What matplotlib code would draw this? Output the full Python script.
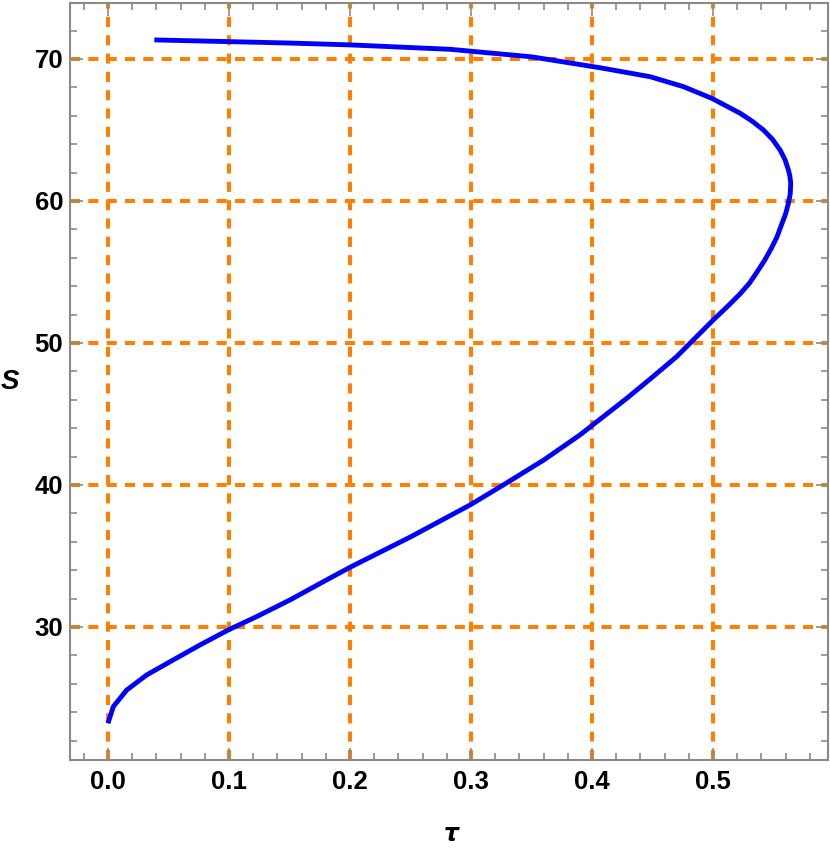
import matplotlib
matplotlib.use("Agg")
import matplotlib.pyplot as plt
from matplotlib.ticker import MultipleLocator

# curve, from the bottom end to the top end
tau = [0.0, 0.0044, 0.0155, 0.032, 0.054, 0.076, 0.0994, 0.1229, 0.1504,
       0.175, 0.2, 0.25, 0.2992, 0.3267, 0.36, 0.390, 0.4287, 0.45, 0.47,
       0.4865, 0.5002, 0.5123, 0.5223, 0.5300, 0.536, 0.5425, 0.5484,
       0.5530, 0.5567, 0.5600, 0.5623, 0.5638, 0.5642, 0.5635, 0.5623,
       0.5595, 0.5554, 0.5490, 0.5416, 0.5323, 0.5223, 0.4989, 0.4755,
       0.448, 0.4066, 0.35, 0.2826, 0.2, 0.15, 0.1, 0.0383]
S = [23.22, 24.39, 25.56, 26.62, 27.68, 28.73, 29.79, 30.73, 31.9,
     33.05, 34.2, 36.34, 38.59, 40.0, 41.75, 43.52, 46.1, 47.6, 49.04,
     50.45, 51.62, 52.6, 53.45, 54.2, 54.95, 55.8, 56.7,
     57.5, 58.35, 59.1, 59.84, 60.5, 61.25, 61.75, 62.18,
     62.9, 63.59, 64.35, 65.0, 65.62, 66.18, 67.23, 68.05,
     68.75, 69.38, 70.15, 70.68, 70.99, 71.12, 71.22, 71.34]

xticks = [0.0, 0.1, 0.2, 0.3, 0.4, 0.5]
yticks = [30, 40, 50, 60, 70]

grid_col = "#ff8000"
spine_col = "#8a8a8a"
font = "Liberation Sans"

fig = plt.figure(figsize=(8.3, 8.51), dpi=100)
ax = fig.add_axes([70/830, 91/851, 758/830, 757/851])

ax.set_xlim(-0.0314, 0.595)
ax.set_ylim(20.63, 73.94)

# dashed orange grid
dash = (0, (2.5, 2.05))
for x in xticks:
    ax.axvline(x, color=grid_col, lw=2.9, ls=dash, zorder=1)
for y in yticks:
    ax.axhline(y, color=grid_col, lw=2.9, ls=dash, zorder=1)

ax.plot(tau, S, color="#0000ff", lw=3.5, solid_joinstyle="round",
        solid_capstyle="butt", zorder=3)

ax.set_xticks(xticks)
ax.set_yticks(yticks)
ax.set_xticklabels(["%.1f" % v for v in xticks])
ax.xaxis.set_minor_locator(MultipleLocator(0.02))
ax.yaxis.set_minor_locator(MultipleLocator(2))
ax.tick_params(which="both", direction="in", top=True, right=True,
               colors=spine_col, width=1.2)
ax.tick_params(which="major", length=9)
ax.tick_params(which="minor", length=5)
ax.tick_params(axis="x", which="major", pad=7)
ax.tick_params(axis="y", which="major", pad=5)
for lab in ax.get_xticklabels() + ax.get_yticklabels():
    lab.set_color("black")
    lab.set_fontfamily(font)
    lab.set_fontweight("bold")
    lab.set_fontsize(18.5)
for sp in ax.spines.values():
    sp.set_color(spine_col)
    sp.set_linewidth(1.5)

fig.text(10/830, 1 - 382/851, "S", fontsize=20, fontweight="bold",
         fontstyle="italic", family=font, ha="center", va="center")
fig.text(451/830, 1 - 834/851, "τ", fontsize=17, fontweight="bold",
         fontstyle="italic", family="DejaVu Sans", ha="center", va="center")

fig.savefig("out.png", dpi=100)
